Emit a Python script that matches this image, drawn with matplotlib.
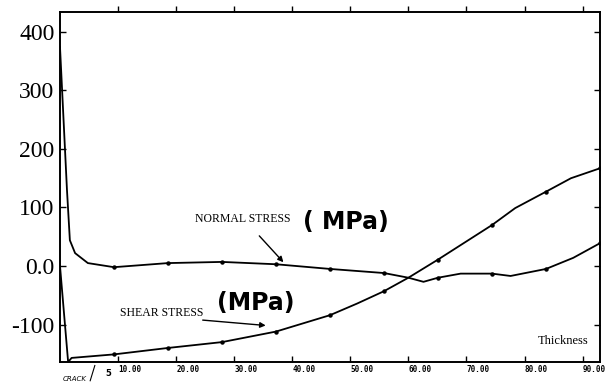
import numpy as np
import matplotlib.pyplot as plt

# Normal stress curve (MPa) vs thickness
normal_x = [0, 1.2, 1.7, 2.6, 4.8, 9.3, 18.6, 27.9, 37.2, 46.5, 55.8, 60.0, 62.6, 65.1, 69.0, 74.4, 77.6, 83.7, 88.4, 93.0]
normal_y = [374, 130, 44, 22, 5, -2, 5, 7, 3, -5, -12, -20, -27, -20, -13, -13, -17, -5, 14, 39]

# Shear stress curve (MPa) vs thickness
shear_x = [0, 1.4, 2.0, 9.3, 18.6, 27.9, 37.2, 46.5, 51.2, 55.8, 60.0, 65.1, 74.4, 78.4, 83.7, 88.0, 93.0]
shear_y = [0, -164, -157, -151, -140, -130, -112, -84, -64, -43, -20, 11, 70, 99, 127, 150, 167]

# Sample points marked with dots
mark_step = 9.3

x_ticks = [10, 20, 30, 40, 50, 60, 70, 80, 90]
x_tick_labels = ["10.00", "20.00", "30.00", "40.00", "50.00", "60.00", "70.00", "80.00", "90.00"]
y_ticks = [-100, 0, 100, 200, 300, 400]
y_tick_labels = ["-100", "0.0", "100", "200", "300", "400"]

fig = plt.figure(figsize=(6.06, 3.84), dpi=100)
ax = fig.add_axes([60 / 606, 1 - 362 / 384, 540 / 606, 350 / 384])


def marks(xs):
    return [i for i, v in enumerate(xs) if v > 0 and abs(v / mark_step - round(v / mark_step)) < 1e-6]


ax.plot(normal_x, normal_y, color="black", lw=1.3, marker="o", ms=2.2, markevery=marks(normal_x))
ax.plot(shear_x, shear_y, color="black", lw=1.3, marker="o", ms=2.2, markevery=marks(shear_x))

ax.set_xlim(0, 93)
ax.set_ylim(-164, 434)

for s in ax.spines.values():
    s.set_linewidth(1.4)

ax.set_yticks(y_ticks)
ax.set_yticklabels(y_tick_labels, fontfamily="Liberation Serif", fontsize=17)
ax.set_xticks(x_ticks)
ax.set_xticklabels(x_tick_labels, fontfamily="DejaVu Sans Mono", fontweight="bold", fontsize=5.5, ha="left")
ax.tick_params(axis="x", direction="in", length=4, width=1, pad=2, top=True)
ax.tick_params(axis="y", direction="in", length=4, width=1, pad=4, right=True)
for t in ax.xaxis.get_major_ticks():
    t.tick2line.set_marker(2)
for t in ax.yaxis.get_major_ticks():
    t.tick2line.set_marker(0)

# labels and hand annotations
ax.text(23.3, 80, "NORMAL STRESS", family="Liberation Serif", fontsize=8.5, va="center")
ax.text(41.9, 75, "( MPa)", family="DejaVu Sans", fontsize=17, fontweight="bold", va="center")
ax.annotate("", xy=(38.8, 3), xytext=(34, 55),
            arrowprops=dict(arrowstyle="-|>", lw=1, color="black", mutation_scale=8))

ax.text(10.3, -80, "SHEAR STRESS", family="Liberation Serif", fontsize=8.5, va="center")
ax.text(27.0, -63, "(MPa)", family="DejaVu Sans", fontsize=17, fontweight="bold", va="center")
ax.annotate("", xy=(35.9, -102), xytext=(24.1, -92),
            arrowprops=dict(arrowstyle="-|>", lw=1, color="black", mutation_scale=8))

ax.text(82.2, -128, "Thickness", family="Liberation Serif", fontsize=9, va="center")

ax.text(0.5, -193, "CRACK", fontsize=5, style="italic", va="center", clip_on=False)
ax.plot([5.2, 6.0], [-196, -170], color="black", lw=0.8, clip_on=False)
ax.text(8.3, -184, "5", fontsize=6, fontweight="bold", va="center", ha="center", clip_on=False)

fig.savefig("out.png", dpi=100)
